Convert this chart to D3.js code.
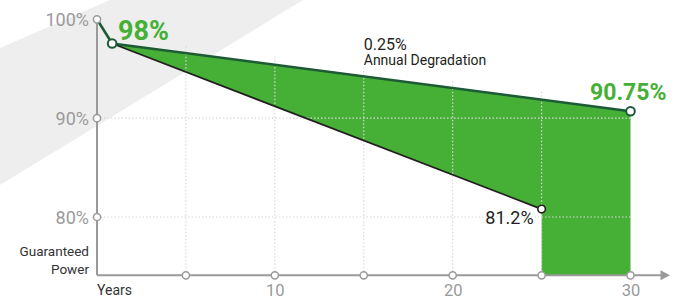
<!DOCTYPE html>
<html>
<head>
<meta charset="utf-8">
<script src="https://cdn.jsdelivr.net/npm/d3@7"></script>
<style>
  html, body { margin: 0; padding: 0; background: #fff; }
  svg { display: block; font-family: Roboto, "DejaVu Sans", sans-serif; }
</style>
</head>
<body>
<div id="chart"></div>
<script>
// dados
const rampYears = [0, 0.85];
const rampValues = [100, 97.55];
const warrantyYears = [0.85, 30];
const warrantyValues = [97.55, 90.7];
const standardYears = [0.85, 25];
const standardValues = [97.55, 80.8];
const xTickValues = [5, 10, 15, 20, 25, 30];
const xTickLabels = ["", "10", "", "20", "", "30"];
const yTickValues = [80, 90, 100];
const yTickLabels = ["80%", "90%", "100%"];
const gridYears = [5, 10, 15, 20, 25];

// configurações
const W = 679, H = 300;
const margin = { top: 19.3, left: 97 };
const width = 533.5;
const height = 256;
const green = "#45b035", darkGreen = "#1c5b35", ink = "#231f20", grey = "#9a9a9a";

const svg = d3.select("#chart").append("svg")
    .attr("width", W)
    .attr("height", H);

// faixa cinza de fundo
svg.append("polygon")
    .attr("points", "0,48 110,0 303,0 0,185")
    .attr("fill", "#eeeeee");

const g = svg.append("g")
    .attr("transform", `translate(${margin.left},${margin.top})`);

// escalas
const x = d3.scaleLinear().domain([0, 30]).range([0, width]);
const y = d3.scaleLinear().domain([74.1, 100]).range([height, 0]);
const floor = y.domain()[0];

const toPts = (xs, vs) => xs.map((d, i) => [d, vs[i]]);
const warranty = toPts(warrantyYears, warrantyValues);
const standard = toPts(standardYears, standardValues);
const ramp = toPts(rampYears, rampValues);
const line = d3.line().x(d => x(d[0])).y(d => y(d[1]));

// área verde
const lastStd = standard[standard.length - 1];
const lastWar = warranty[warranty.length - 1];
const areaPts = warranty
    .concat([[lastWar[0], floor], [lastStd[0], floor]])
    .concat(standard.slice().reverse());
g.append("path")
    .attr("d", line(areaPts) + "Z")
    .attr("fill", green);

// grade
const warrantyAt = d3.scaleLinear().domain(warrantyYears).range(warrantyValues);
g.selectAll(".vgrid").data(gridYears).enter().append("line")
    .attr("x1", d => x(d)).attr("x2", d => x(d))
    .attr("y1", y(floor))
    .attr("y2", d => y(warrantyAt(d)) - 9)
    .attr("stroke", "#d9d9d9")
    .attr("stroke-width", 1.2)
    .attr("stroke-dasharray", "1.5,2");
g.selectAll(".hgrid").data([80, 90]).enter().append("line")
    .attr("x1", 0).attr("x2", x(30))
    .attr("y1", d => y(d)).attr("y2", d => y(d))
    .attr("stroke", "#d9d9d9")
    .attr("stroke-width", 1.2)
    .attr("stroke-dasharray", "1.5,2");

// linhas
g.append("path").datum(standard)
    .attr("d", line).attr("fill", "none")
    .attr("stroke", ink).attr("stroke-width", 1.8);
g.append("path").datum(warranty)
    .attr("d", line).attr("fill", "none")
    .attr("stroke", darkGreen).attr("stroke-width", 2.6);
g.append("path").datum(ramp)
    .attr("d", line).attr("fill", "none")
    .attr("stroke", darkGreen).attr("stroke-width", 2.6);

// eixos
g.append("line")
    .attr("x1", 0).attr("x2", 0)
    .attr("y1", y(100)).attr("y2", y(floor))
    .attr("stroke", grey).attr("stroke-width", 2);
g.append("line")
    .attr("x1", 0).attr("x2", width + 31)
    .attr("y1", y(floor)).attr("y2", y(floor))
    .attr("stroke", grey).attr("stroke-width", 2);
g.append("path")
    .attr("d", `M${width + 30},${y(floor) - 5}L${width + 39.5},${y(floor)}L${width + 30},${y(floor) + 5}Z`)
    .attr("fill", grey);

const xAxis = d3.axisBottom(x).tickValues(xTickValues)
    .tickSize(0).tickPadding(9)
    .tickFormat((d, i) => xTickLabels[i]);
const xg = g.append("g")
    .attr("transform", `translate(0,${y(floor)})`)
    .call(xAxis);
xg.select(".domain").remove();
xg.selectAll("text")
    .attr("fill", grey)
    .style("font-size", "16.5px")
    .style("font-family", "Roboto, sans-serif");

const yAxis = d3.axisLeft(y).tickValues(yTickValues)
    .tickSize(0).tickPadding(8)
    .tickFormat((d, i) => yTickLabels[i]);
const yg = g.append("g").call(yAxis);
yg.select(".domain").remove();
yg.selectAll("text")
    .attr("fill", grey)
    .attr("dy", "0.36em")
    .style("font-size", "18px")
    .style("font-family", "Roboto, sans-serif");

// marcadores dos eixos
g.selectAll(".xdot").data(xTickValues).enter().append("circle")
    .attr("cx", d => x(d)).attr("cy", y(floor)).attr("r", 3.6)
    .attr("fill", "#fff").attr("stroke", grey).attr("stroke-width", 1.5);
g.selectAll(".ydot").data(yTickValues).enter().append("circle")
    .attr("cx", 0).attr("cy", d => y(d)).attr("r", 3.6)
    .attr("fill", "#fff").attr("stroke", grey).attr("stroke-width", 1.5);

// pontos
g.append("circle")
    .attr("cx", x(warranty[0][0])).attr("cy", y(warranty[0][1])).attr("r", 4.3)
    .attr("fill", "#fff").attr("stroke", darkGreen).attr("stroke-width", 2);
g.append("circle")
    .attr("cx", x(lastWar[0])).attr("cy", y(lastWar[1])).attr("r", 4.3)
    .attr("fill", "#fff").attr("stroke", darkGreen).attr("stroke-width", 2);
g.append("circle")
    .attr("cx", x(lastStd[0])).attr("cy", y(lastStd[1])).attr("r", 3.8)
    .attr("fill", "#fff").attr("stroke", ink).attr("stroke-width", 1.6);

// rótulos
g.append("text")
    .attr("x", x(warranty[0][0]) + 6).attr("y", y(warranty[0][1]) - 4)
    .attr("fill", green).style("font-size", "27px").style("font-weight", "bold")
    .text("98%");
g.append("text")
    .attr("x", x(lastWar[0]) + 36).attr("y", y(lastWar[1]) - 11)
    .attr("text-anchor", "end")
    .attr("fill", green).style("font-size", "23px").style("font-weight", "bold")
    .text("90.75%");
g.append("text")
    .attr("x", x(lastStd[0]) - 8).attr("y", y(lastStd[1]) + 15)
    .attr("text-anchor", "end")
    .attr("fill", ink).style("font-size", "18px")
    .text("81.2%");
g.append("text")
    .attr("x", x(15)).attr("y", 30.5)
    .attr("fill", ink).style("font-size", "16px")
    .text("0.25%");
g.append("text")
    .attr("x", x(15)).attr("y", 46)
    .attr("fill", ink).style("font-size", "14px")
    .text("Annual Degradation");

g.append("text")
    .attr("x", -8).attr("y", 237)
    .attr("text-anchor", "end")
    .attr("fill", "#333").style("font-size", "13.5px")
    .text("Guaranteed");
g.append("text")
    .attr("x", -8).attr("y", 255)
    .attr("text-anchor", "end")
    .attr("fill", "#333").style("font-size", "13.5px")
    .text("Power");
g.append("text")
    .attr("x", 0).attr("y", 275.5)
    .attr("fill", "#333").style("font-size", "14px")
    .text("Years");
</script>
</body>
</html>
